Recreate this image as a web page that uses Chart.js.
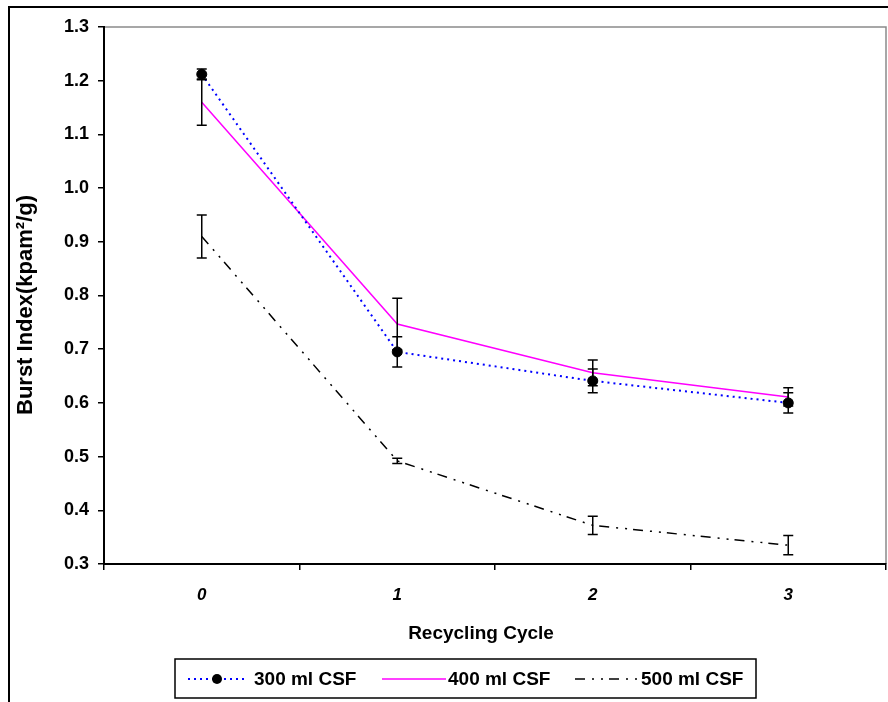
<!DOCTYPE html>
<html>
<head>
<meta charset="utf-8">
<script src="https://cdn.jsdelivr.net/npm/chart.js@4.4.1/dist/chart.umd.min.js"></script>
<style>
  html, body { margin: 0; padding: 0; background: #fff; }
  canvas { display: block; }
</style>
</head>
<body>
<canvas id="burst" width="888" height="702"></canvas>
<script>
var cycles = ['0', '1', '2', '3'];

var csf300 = [1.212, 0.695, 0.641, 0.600];
var csf300Err = [0.010, 0.028, 0.022, 0.019];

var csf400 = [1.160, 0.747, 0.656, 0.611];
var csf400Err = [0.043, 0.048, 0.024, 0.017];

var csf500 = [0.910, 0.492, 0.372, 0.335];
var csf500Err = [0.040, 0.005, 0.017, 0.018];

var seriesNames = ['300 ml CSF', '400 ml CSF', '500 ml CSF'];
var xTitle = 'Recycling Cycle';
var yTitle = 'Burst Index(kpam²/g)';

var FONT = "'Liberation Sans', Arial, Helvetica, sans-serif";

// error bars drawn from the y scale
var errorBars = {
    id: 'errorBars',
    afterDatasetsDraw: function (chart) {
        var ctx = chart.ctx;
        var yScale = chart.scales.y;
        ctx.save();
        ctx.strokeStyle = '#000';
        ctx.lineWidth = 1.5;
        ctx.setLineDash([]);
        chart.data.datasets.forEach(function (ds, i) {
            var meta = chart.getDatasetMeta(i);
            meta.data.forEach(function (pt, j) {
                var e = ds.errors[j];
                var top = yScale.getPixelForValue(ds.data[j] + e);
                var bot = yScale.getPixelForValue(ds.data[j] - e);
                ctx.beginPath();
                ctx.moveTo(pt.x, top); ctx.lineTo(pt.x, bot);
                ctx.moveTo(pt.x - 5, top); ctx.lineTo(pt.x + 5, top);
                ctx.moveTo(pt.x - 5, bot); ctx.lineTo(pt.x + 5, bot);
                ctx.stroke();
            });
        });
        ctx.restore();
    }
};

// outer frame, plot frame, axis titles and the boxed legend
var frame = {
    id: 'frame',
    beforeDraw: function (chart) {
        var ctx = chart.ctx;
        var a = chart.chartArea;
        ctx.save();
        ctx.fillStyle = '#fff';
        ctx.fillRect(0, 0, chart.width, chart.height);
        ctx.strokeStyle = '#000';
        ctx.lineWidth = 2;
        ctx.beginPath();
        ctx.moveTo(9, chart.height); ctx.lineTo(9, 7); ctx.lineTo(chart.width, 7);
        ctx.stroke();
        ctx.strokeStyle = '#8a8a8a';
        ctx.lineWidth = 1.5;
        ctx.beginPath();
        ctx.moveTo(a.left, a.top); ctx.lineTo(a.right, a.top); ctx.lineTo(a.right, a.bottom);
        ctx.stroke();
        ctx.restore();
    },
    afterDraw: function (chart) {
        var ctx = chart.ctx;
        ctx.save();
        ctx.fillStyle = '#000';
        ctx.textBaseline = 'middle';
        ctx.textAlign = 'center';
        ctx.font = 'bold 19px ' + FONT;
        ctx.fillText(xTitle, 481, 634);

        ctx.save();
        ctx.translate(26, 305);
        ctx.rotate(-Math.PI / 2);
        ctx.font = 'bold 22px ' + FONT;
        ctx.fillText(yTitle, 0, 0);
        ctx.restore();

        ctx.strokeStyle = '#000';
        ctx.lineWidth = 1.5;
        ctx.strokeRect(175, 659, 581, 39);

        var cy = 679;
        var items = [
            { x0: 188, x1: 246, tx: 254, ds: chart.data.datasets[0] },
            { x0: 382, x1: 446, tx: 448, ds: chart.data.datasets[1] },
            { x0: 575, x1: 640, tx: 641, ds: chart.data.datasets[2] }
        ];
        items.forEach(function (it, i) {
            ctx.strokeStyle = it.ds.borderColor;
            ctx.lineWidth = it.ds.borderWidth;
            ctx.setLineDash(it.ds.borderDash || []);
            ctx.beginPath();
            ctx.moveTo(it.x0, cy); ctx.lineTo(it.x1, cy);
            ctx.stroke();
            ctx.setLineDash([]);
            if (it.ds.pointRadius > 0) {
                ctx.fillStyle = '#000';
                ctx.beginPath();
                ctx.arc((it.x0 + it.x1) / 2, cy, 5, 0, Math.PI * 2);
                ctx.fill();
            }
            ctx.fillStyle = '#000';
            ctx.font = 'bold 19px ' + FONT;
            ctx.textBaseline = 'middle';
            ctx.textAlign = 'left';
            ctx.fillText(seriesNames[i], it.tx, cy + 1);
        });
        ctx.restore();
    }
};

var burstData = {
    labels: cycles,
    datasets: [
        {
            label: seriesNames[0],
            data: csf300,
            errors: csf300Err,
            borderColor: '#0000ff',
            borderWidth: 2,
            borderDash: [2, 4],
            pointRadius: 5,
            pointBackgroundColor: '#000',
            pointBorderColor: '#000',
            pointBorderWidth: 1
        },
        {
            label: seriesNames[1],
            data: csf400,
            errors: csf400Err,
            borderColor: '#ff00ff',
            borderWidth: 1.5,
            pointRadius: 0
        },
        {
            label: seriesNames[2],
            data: csf500,
            errors: csf500Err,
            borderColor: '#000',
            borderWidth: 1.5,
            borderDash: [10, 7, 2, 7, 2, 6],
            pointRadius: 0
        }
    ]
};

var burstOptions = {
    responsive: false,
    animation: false,
    devicePixelRatio: 1,
    layout: { autoPadding: false, padding: { top: 27, right: 2, left: 0, bottom: 0 } },
    plugins: {
        legend: { display: false },
        tooltip: { enabled: false }
    },
    elements: { line: { tension: 0, fill: false } },
    scales: {
        x: {
            type: 'category',
            offset: true,
            afterFit: function (s) {
                s.height = 138;
                s.paddingLeft = 0;
                s.paddingRight = 0;
            },
            grid: {
                offset: true,
                drawOnChartArea: false,
                drawTicks: true,
                tickLength: 6,
                color: '#000',
                lineWidth: 1.5
            },
            border: { display: true, color: '#000', width: 2 },
            ticks: {
                color: '#000',
                padding: 15,
                maxRotation: 0,
                font: { family: FONT, size: 17, weight: 'bold', style: 'italic' }
            },
            title: { display: false }
        },
        y: {
            min: 0.3,
            max: 1.3,
            afterFit: function (s) { s.width = 104; },
            grid: {
                drawOnChartArea: false,
                drawTicks: true,
                tickLength: 6,
                color: '#000',
                lineWidth: 1.5
            },
            border: { display: true, color: '#000', width: 2 },
            ticks: {
                stepSize: 0.1,
                color: '#000',
                padding: 9,
                font: { family: FONT, size: 18, weight: 'bold' },
                callback: function (v) { return Number(v).toFixed(1); }
            },
            title: { display: false }
        }
    }
};

var ctx1 = document.getElementById('burst').getContext('2d');

var burstChart = new Chart(ctx1, {
    type: 'line',
    data: burstData,
    options: burstOptions,
    plugins: [frame, errorBars]
});
</script>
</body>
</html>
